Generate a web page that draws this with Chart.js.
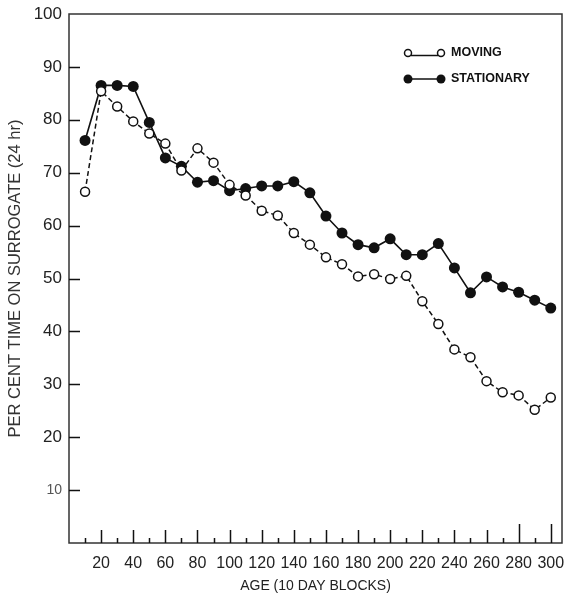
<!DOCTYPE html>
<html>
<head>
<meta charset="utf-8">
<script src="https://cdn.jsdelivr.net/npm/chart.js@4/dist/chart.umd.min.js"></script>
<style>
  html, body { margin: 0; padding: 0; background: #fff; }
  #wrap { width: 564px; height: 597px; }
</style>
</head>
<body>
<div id="wrap"><canvas id="chart" width="564" height="597"></canvas></div>
<script>
// Age blocks (10 day blocks)
const ages = [10, 20, 30, 40, 50, 60, 70, 80, 90, 100, 110, 120, 130, 140, 150,
  160, 170, 180, 190, 200, 210, 220, 230, 240, 250, 260, 270, 280, 290, 300];

// Per cent time on surrogate
const moving = [66.4, 85.4, 82.5, 79.7, 77.4, 75.5, 70.4, 74.6, 71.9, 67.7, 65.7, 62.8, 61.9, 58.6, 56.4,
  54.0, 52.7, 50.4, 50.8, 49.9, 50.5, 45.7, 41.4, 36.6, 35.1, 30.6, 28.5, 27.9, 25.2, 27.5];
const stationary = [76.1, 86.5, 86.5, 86.3, 79.5, 72.8, 71.2, 68.2, 68.5, 66.6, 67.0, 67.5, 67.5, 68.3, 66.2,
  61.8, 58.6, 56.4, 55.8, 57.5, 54.5, 54.5, 56.6, 52.0, 47.3, 50.3, 48.4, 47.4, 45.9, 44.4];

// Axis ticks
const xMajorTicks = [20, 40, 60, 80, 100, 120, 140, 160, 180, 200, 220, 240, 260, 280, 300];
const xMinorTicks = [10, 30, 50, 70, 90, 110, 130, 150, 170, 190, 210, 230, 250, 270, 290];
const yTicks = [10, 20, 30, 40, 50, 60, 70, 80, 90, 100];

const ink = '#111';
const fontFamily = '"Liberation Sans", Arial, sans-serif';

function toPoints(values) {
  return ages.map((a, i) => ({ x: a, y: values[i] }));
}

// Frame, inward ticks and the legend
const framePlugin = {
  id: 'frame',
  afterDraw(chart) {
    const ctx = chart.ctx;
    const area = chart.chartArea;
    const xs = chart.scales.x;
    const ys = chart.scales.y;
    ctx.save();
    ctx.strokeStyle = '#333';
    ctx.lineWidth = 1.5;
    ctx.strokeRect(area.left, area.top, area.right - area.left, area.bottom - area.top);

    ctx.strokeStyle = ink;
    ctx.lineWidth = 1.5;
    ctx.beginPath();
    xMajorTicks.forEach(v => {
      const px = Math.round(xs.getPixelForValue(v)) + 0.5;
      const len = v >= 280 ? 19 : 13;
      ctx.moveTo(px, area.bottom);
      ctx.lineTo(px, area.bottom - len);
    });
    xMinorTicks.forEach(v => {
      const px = Math.round(xs.getPixelForValue(v)) + 0.5;
      ctx.moveTo(px, area.bottom);
      ctx.lineTo(px, area.bottom - 5);
    });
    yTicks.forEach(v => {
      if (v >= 100) return;
      const py = Math.round(ys.getPixelForValue(v)) + 0.5;
      ctx.moveTo(area.left, py);
      ctx.lineTo(area.left + 11, py);
    });
    ctx.stroke();

    // legend
    const lx1 = 408, lx2 = 441, tx = 451;
    ctx.font = 'bold 12.5px ' + fontFamily;
    ctx.textBaseline = 'middle';
    ctx.fillStyle = ink;

    // moving
    ctx.lineWidth = 1.5;
    ctx.beginPath();
    ctx.moveTo(lx1 + 3, 55.5);
    ctx.lineTo(lx2 - 3, 55.5);
    ctx.stroke();
    [lx1, lx2].forEach(cx => {
      ctx.beginPath();
      ctx.arc(cx, 53, 3.5, 0, Math.PI * 2);
      ctx.fillStyle = '#fff';
      ctx.fill();
      ctx.stroke();
    });
    ctx.fillStyle = ink;
    ctx.fillText('MOVING', tx, 53);

    // stationary
    ctx.beginPath();
    ctx.moveTo(lx1, 79);
    ctx.lineTo(lx2, 79);
    ctx.stroke();
    [lx1, lx2].forEach(cx => {
      ctx.beginPath();
      ctx.arc(cx, 79, 4.5, 0, Math.PI * 2);
      ctx.fill();
    });
    ctx.fillText('STATIONARY', tx, 79);
    ctx.restore();
  }
};

new Chart(document.getElementById('chart'), {
  type: 'line',
  data: {
    datasets: [{
      label: 'MOVING',
      data: toPoints(moving),
      borderColor: ink,
      borderWidth: 1.5,
      borderDash: [5, 3],
      pointRadius: 4.5,
      pointBorderWidth: 1.5,
      pointBackgroundColor: '#fff',
      pointBorderColor: ink,
      tension: 0
    }, {
      label: 'STATIONARY',
      data: toPoints(stationary),
      borderColor: ink,
      borderWidth: 1.6,
      pointRadius: 5.5,
      pointBorderWidth: 0,
      pointBackgroundColor: ink,
      pointBorderColor: ink,
      tension: 0
    }]
  },
  options: {
    responsive: false,
    animation: false,
    layout: { autoPadding: false, padding: { top: 14, right: 2, left: 0, bottom: 0 } },
    plugins: {
      legend: { display: false },
      tooltip: { enabled: false }
    },
    scales: {
      x: {
        type: 'linear',
        min: 0,
        max: 307,
        grid: { display: false, drawTicks: false },
        border: { display: false },
        afterBuildTicks: scale => {
          scale.ticks = xMajorTicks.map(v => ({ value: v }));
        },
        afterFit: scale => {
          scale.height = 54;
          scale.paddingLeft = 0;
          scale.paddingRight = 0;
        },
        ticks: {
          padding: 11,
          color: '#222',
          maxRotation: 0,
          autoSkip: false,
          font: { family: fontFamily, size: 16 }
        },
        title: {
          display: true,
          text: 'AGE (10 DAY BLOCKS)',
          color: '#222',
          padding: { top: 0, bottom: 2 },
          font: { family: fontFamily, size: 14 }
        }
      },
      y: {
        min: 0,
        max: 100,
        grid: { display: false, drawTicks: false },
        border: { display: false },
        afterBuildTicks: scale => {
          scale.ticks = yTicks.map(v => ({ value: v }));
        },
        afterFit: scale => {
          scale.width = 69;
          scale.paddingTop = 0;
          scale.paddingBottom = 0;
        },
        ticks: {
          padding: 7,
          color: c => (c.tick && c.tick.value === 10 ? '#555' : '#222'),
          font: c => ({ family: fontFamily, size: c.tick && c.tick.value === 10 ? 14 : 17 })
        },
        title: {
          display: true,
          text: 'PER CENT TIME ON SURROGATE (24 hr)',
          color: '#333',
          padding: { top: 6, bottom: 0 },
          font: { family: fontFamily, size: 16.5 }
        }
      }
    }
  },
  plugins: [framePlugin]
});
</script>
</body>
</html>
